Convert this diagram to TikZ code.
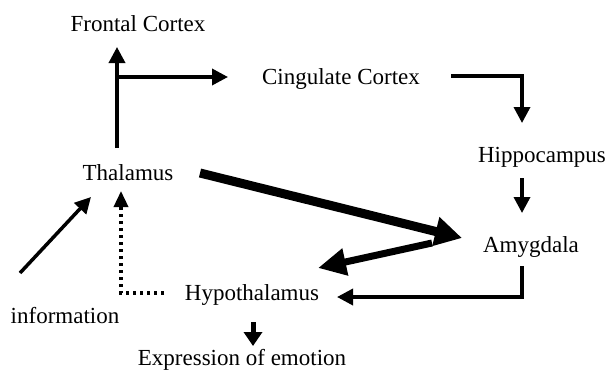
\documentclass[tikz,border=0pt]{standalone}
\usepackage{fontspec}
\setmainfont{Liberation Serif}
\usetikzlibrary{arrows.meta}
\begin{document}
\begin{tikzpicture}[x=1pt,y=-1pt,
  lbl/.style={anchor=base,inner sep=0pt,font=\fontsize{23}{27}\selectfont},
  arr/.style={line width=3.5pt,-{Triangle[length=16pt,width=16pt]}},
  bigarr/.style={line width=9pt,-{Triangle[length=27pt,width=28pt]}},
  midarr/.style={line width=7pt,-{Triangle[length=28pt,width=26pt]}},
  exparr/.style={line width=5pt,-{Triangle[length=14pt,width=18pt]}},
  dotarr/.style={line width=3.5pt,dash pattern=on 3.5pt off 3.5pt,-{Triangle[length=16pt,width=14pt]}}
]
\useasboundingbox (0,0) rectangle (609,372);
\node[lbl] (front) at (138,31) {Frontal Cortex};
\node[lbl] (cing) at (341,84) {Cingulate Cortex};
\node[lbl] (hippo) at (542,162) {Hippocampus};
\node[lbl] (thal) at (128,180) {Thalamus};
\node[lbl] (amyg) at (531,252) {Amygdala};
\node[lbl] (hypo) at (252,300) {Hypothalamus};
\node[lbl] (info) at (65,323) {information};
\node[lbl] (expr) at (242,365) {Expression of emotion};
% coordinates
\coordinate (thalTop) at (117,148);
\coordinate (frontBot) at (117,47);
\coordinate (branch) at (117,77);
\coordinate (cingLeft) at (228,77);
\coordinate (cingRight) at (451,76);
\coordinate (hippoTop) at (522,123);
\coordinate (hippoBot) at (522,178);
\coordinate (amygTop) at (522,213);
\coordinate (thalRight) at (200,173);
\coordinate (amygLeft) at (462,238);
\coordinate (amygLeft2) at (432,243);
\coordinate (hypoUp) at (318,268);
\coordinate (amygBot) at (522,266);
\coordinate (hypoRight) at (337,297);
\coordinate (infoTop) at (20,273);
\coordinate (thalLeft) at (91,197);
\coordinate (hypoLeft) at (164,293);
\coordinate (thalBot) at (121,191);
\coordinate (hypoBot) at (253,322);
\coordinate (exprTop) at (253,346);
% arrows
\draw[arr] (thalTop) -- (frontBot);
\draw[arr] ([xshift=-1.75pt]branch) -- (cingLeft);
\draw[arr] (cingRight) -| (hippoTop);
\draw[arr] (hippoBot) -- (amygTop);
\draw[bigarr] (thalRight) -- (amygLeft);
\draw[midarr] (amygLeft2) -- (hypoUp);
\draw[arr] (amygBot) |- (hypoRight);
\draw[arr] (infoTop) -- (thalLeft);
\draw[dotarr] (hypoLeft) -| (thalBot);
\draw[exparr] (hypoBot) -- (exprTop);
\end{tikzpicture}
\end{document}
